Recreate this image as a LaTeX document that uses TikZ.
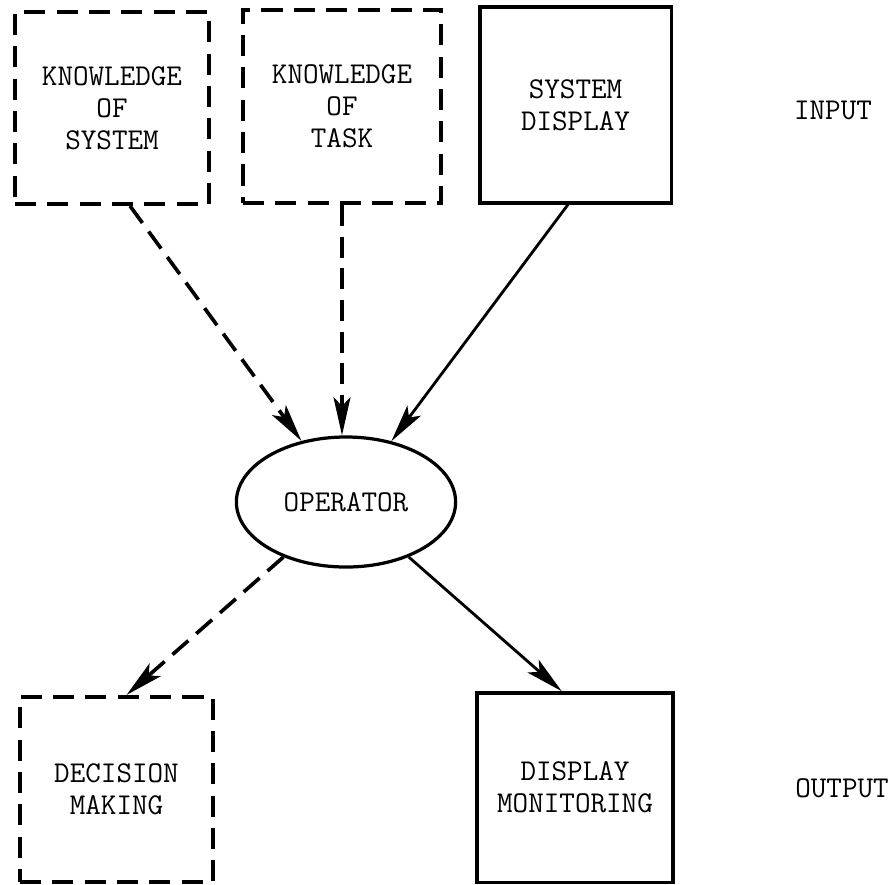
\documentclass[tikz,border=0pt]{standalone}
\usepackage{tikz}
\usetikzlibrary{shapes.geometric, arrows.meta}
\tikzstyle{knowbox} = [rectangle, draw=black, line width=2.7pt, dash pattern=on 15pt off 8pt, align=center, inner sep=0pt]
\tikzstyle{unitbox} = [rectangle, draw=black, line width=2.3pt, align=center, inner sep=0pt]
\tikzstyle{operator} = [ellipse, draw=black, line width=2.3pt, minimum width=5.48cm, minimum height=3.25cm, inner sep=0pt]
\tikzstyle{arrow} = [line width=2pt, -{Stealth[length=27pt, width=12pt, inset=6pt]}]
\tikzstyle{dasharrow} = [arrow, line width=2.6pt, dash pattern=on 15pt off 7.5pt]

\begin{document}
\begin{tikzpicture}[x=0.025cm, y=-0.025cm, font=\ttfamily\fontsize{21.5}{22.6}\selectfont]
\useasboundingbox (0,0) rectangle (893,884);
% input row
\node (ks) [knowbox, minimum width=4.85cm, minimum height=4.8cm] at (112,108) {KNOWLEDGE\\OF\\SYSTEM};
\node (kt) [knowbox, minimum width=4.95cm, minimum height=4.83cm] at (342,106.5) {KNOWLEDGE\\OF\\TASK};
\node (sd) [unitbox, minimum width=4.78cm, minimum height=4.9cm] at (575.5,105) {SYSTEM\\DISPLAY};
\node (input) at (833,110) {INPUT};
% operator
\node (op) [operator] at (346,502) {OPERATOR};
% output row
\node (dm) [knowbox, minimum width=4.83cm, minimum height=4.63cm] at (116.5,789.5) {DECISION\\MAKING};
\node (dim) [unitbox, minimum width=4.9cm, minimum height=4.73cm] at (575,787.5) {DISPLAY\\MONITORING};
\node (output) at (842,788) {OUTPUT};

\draw [dasharrow] ([xshift=0.45cm]ks.south) -- (op);
\draw [dasharrow] (kt.south) -- (kt.south |- op.north);
\draw [arrow] ([xshift=-0.19cm]sd.south) -- (op);
\draw [dasharrow] (op) -- ([xshift=0.25cm]dm.north);
\draw [arrow] (op) -- ([xshift=-0.33cm]dim.north);
\end{tikzpicture}
\end{document}
